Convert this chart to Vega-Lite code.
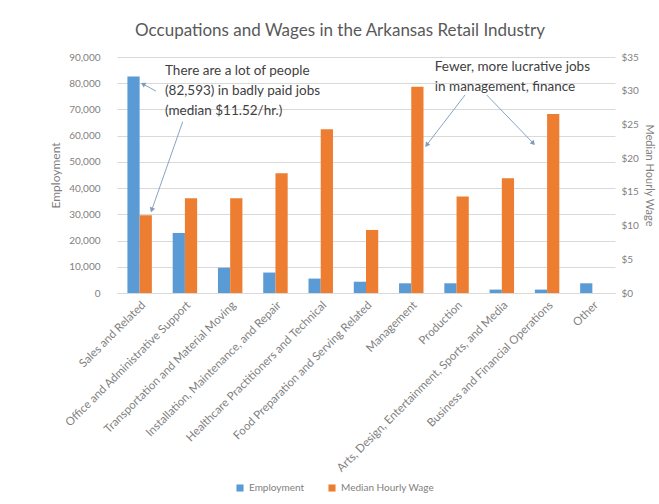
{
  "$schema": "https://vega.github.io/schema/vega-lite/v6.json",
  "width": 498,
  "height": 236,
  "autosize": {"type": "none"},
  "padding": {"left": 117, "top": 57, "right": 44, "bottom": 211},
  "background": "white",
  "title": {
    "text": "Occupations and Wages in the Arkansas Retail Industry",
    "font": "Lato",
    "fontSize": 17,
    "fontWeight": "normal",
    "color": "#595959",
    "anchor": "middle",
    "dx": -26,
    "offset": 12
  },
  "config": {
    "view": {"stroke": null},
    "font": "Lato",
    "axis": {"labelColor": "#7f7f7f", "titleColor": "#7f7f7f", "labelFont": "Lato", "titleFont": "Lato", "titleFontWeight": "normal"},
    "legend": {"labelFont": "Lato", "labelColor": "#7f7f7f"}
  },
  "datasets": {
    "occ": [
      {"Occupation": "Sales and Related", "Employment": 82593, "Wage": 11.52},
      {"Occupation": "Office and Administrative Support", "Employment": 22900, "Wage": 14.05},
      {"Occupation": "Transportation and Material Moving", "Employment": 9650, "Wage": 14.05},
      {"Occupation": "Installation, Maintenance, and Repair", "Employment": 7800, "Wage": 17.75},
      {"Occupation": "Healthcare Practitioners and Technical", "Employment": 5500, "Wage": 24.3},
      {"Occupation": "Food Preparation and Serving Related", "Employment": 4300, "Wage": 9.35},
      {"Occupation": "Management", "Employment": 3700, "Wage": 30.6},
      {"Occupation": "Production", "Employment": 3700, "Wage": 14.3},
      {"Occupation": "Arts, Design, Entertainment, Sports, and Media", "Employment": 1300, "Wage": 17.0},
      {"Occupation": "Business and Financial Operations", "Employment": 1300, "Wage": 26.55},
      {"Occupation": "Other", "Employment": 3700, "Wage": null}
    ],
    "notes": [
      {"pos": 1.06, "val": 87200, "text": "There are a lot of people\n(82,593) in badly paid jobs\n(median $11.52/hr.)"},
      {"pos": 7.02, "val": 88900, "text": "Fewer, more lucrative jobs\nin management, finance"}
    ],
    "arrows": [
      {"fromPos": 0.861, "fromVal": 77000, "toPos": 0.574, "toVal": 79700, "angle": 298},
      {"fromPos": 1.451, "fromVal": 65300, "toPos": 0.767, "toVal": 31650, "angle": 199},
      {"fromPos": 7.687, "fromVal": 75500, "toPos": 6.84, "toVal": 56440, "angle": 217},
      {"fromPos": 8.167, "fromVal": 75500, "toPos": 9.196, "toVal": 57090, "angle": 136}
    ]
  },
  "layer": [
    {
      "data": {"name": "occ"},
      "layer": [
        {
          "mark": {"type": "bar"},
          "encoding": {
            "x": {
              "field": "Occupation", "type": "nominal", "sort": null,
              "scale": {"paddingInner": 0.46, "paddingOuter": 0.23},
              "axis": {"title": null, "labelAngle": -45, "labelFontSize": 11.5, "labelLimit": 0, "ticks": false, "domainColor": "#d9d9d9", "labelPadding": 6}
            },
            "xOffset": {"datum": "Employment", "scale": {"domain": ["Employment", "Median Hourly Wage"], "paddingInner": 0, "paddingOuter": 0}},
            "y": {
              "field": "Employment", "type": "quantitative",
              "scale": {"domain": [0, 90000]},
              "axis": {"title": "Employment", "titleFontSize": 12, "values": [0, 10000, 20000, 30000, 40000, 50000, 60000, 70000, 80000, 90000], "format": ",.0f", "labelFontSize": 10, "domain": false, "ticks": false, "labelPadding": 17, "gridColor": "#d9d9d9", "titlePadding": 6}
            },
            "color": {
              "datum": "Employment",
              "scale": {"domain": ["Employment", "Median Hourly Wage"], "range": ["#5b9bd5", "#ed7d31"]},
              "legend": {"title": null, "orient": "none", "direction": "horizontal", "legendX": 118, "legendY": 426, "symbolType": "square", "symbolSize": 50, "labelFontSize": 10, "columnPadding": 22}
            }
          }
        },
        {
          "mark": {"type": "bar"},
          "encoding": {
            "x": {"field": "Occupation", "type": "nominal", "sort": null, "scale": {"paddingInner": 0.46, "paddingOuter": 0.23}},
            "xOffset": {"datum": "Median Hourly Wage"},
            "y": {
              "field": "Wage", "type": "quantitative",
              "scale": {"domain": [0, 35]},
              "axis": {"title": "Median Hourly Wage", "orient": "right", "titleFontSize": 11, "values": [0, 5, 10, 15, 20, 25, 30, 35], "format": "$,.0f", "labelFontSize": 10, "domain": false, "ticks": false, "grid": false, "labelPadding": 6, "titlePadding": 5}
            },
            "color": {"datum": "Median Hourly Wage"}
          }
        }
      ],
      "resolve": {"scale": {"y": "independent"}}
    },
    {
      "data": {"name": "arrows"},
      "mark": {"type": "rule", "color": "#8aa3c4", "strokeWidth": 1},
      "encoding": {
        "x": {"field": "fromPos", "type": "quantitative", "scale": {"domain": [0, 11], "nice": false, "zero": false}, "axis": null},
        "x2": {"field": "toPos"},
        "y": {"field": "fromVal", "type": "quantitative", "scale": {"domain": [0, 90000], "nice": false}, "axis": null},
        "y2": {"field": "toVal"}
      }
    },
    {
      "data": {"name": "arrows"},
      "mark": {"type": "point", "shape": "triangle-up", "filled": true, "color": "#7f9cc0", "size": 30, "opacity": 1},
      "encoding": {
        "x": {"field": "toPos", "type": "quantitative", "scale": {"domain": [0, 11], "nice": false, "zero": false}, "axis": null},
        "y": {"field": "toVal", "type": "quantitative", "scale": {"domain": [0, 90000], "nice": false}, "axis": null},
        "angle": {"field": "angle", "type": "quantitative", "scale": null}
      }
    },
    {
      "data": {"name": "notes"},
      "mark": {"type": "text", "align": "left", "baseline": "top", "lineBreak": "\n", "lineHeight": 20, "font": "Lato", "fontSize": 13.5, "color": "#404040"},
      "encoding": {
        "x": {"field": "pos", "type": "quantitative", "scale": {"domain": [0, 11], "nice": false, "zero": false}, "axis": null},
        "y": {"field": "val", "type": "quantitative", "scale": {"domain": [0, 90000], "nice": false}, "axis": null},
        "text": {"field": "text", "type": "nominal"}
      }
    }
  ],
  "resolve": {"scale": {"x": "independent", "y": "independent"}}
}
